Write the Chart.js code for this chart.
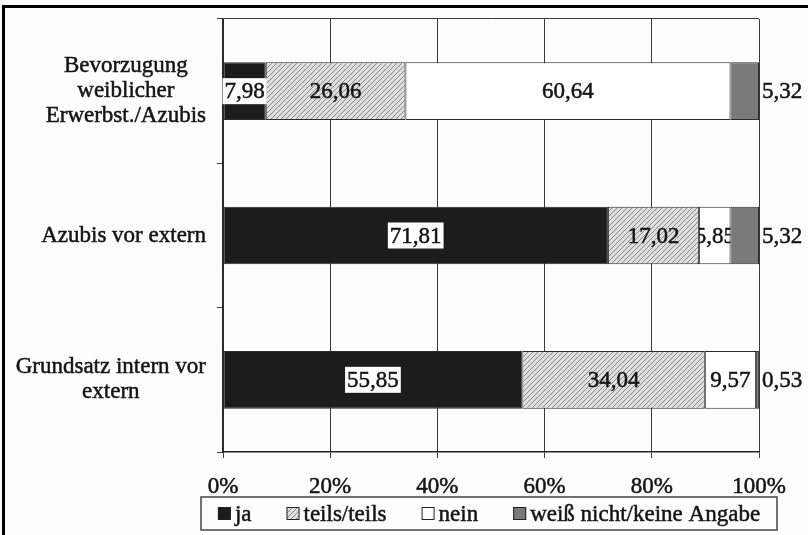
<!DOCTYPE html>
<html>
<head>
<meta charset="utf-8">
<script src="https://cdn.jsdelivr.net/npm/chart.js@4.4.1/dist/chart.umd.min.js"></script>
<style>
  html, body { margin: 0; padding: 0; background: #fff; }
  #wrap { position: relative; width: 808px; height: 535px; overflow: hidden; background: #fdfdfd; }
  #frame { position: absolute; left: 2px; top: 5px; width: 900px; height: 700px;
           border-left: 3px solid #000; border-top: 3px solid #000; pointer-events: none; }
  canvas { position: absolute; left: 0; top: 0; }
</style>
</head>
<body>
<div id="wrap">
  <canvas id="chart" width="808" height="535"></canvas>
  <div id="frame"></div>
</div>
<script>
// categories (one entry per bar, split into display lines)
const categories = [
  ["Bevorzugung", "weiblicher", "Erwerbst./Azubis"],
  ["Azubis vor extern"],
  ["Grundsatz intern vor", "extern"]
];
const seriesNames = ["ja", "teils/teils", "nein", "weiß nicht/keine Angabe"];
const jaValues = [7.98, 71.81, 55.85];
const teilsValues = [26.06, 17.02, 34.04];
const neinValues = [60.64, 5.85, 9.57];
const unknownValues = [5.32, 5.32, 0.53];
const xTickValues = [0, 20, 40, 60, 80, 100];

const FAMILY = "'Liberation Serif', 'Times New Roman', serif";
const FONT = "23px " + FAMILY;
const TEXT = "#141414";
const LINE = "#3a3a3a";
const STROKE_W = 0.5;

const canvas = document.getElementById("chart");
const ctx = canvas.getContext("2d");

// diagonal hatch fill for "teils/teils"
function makeHatch() {
  const c = document.createElement("canvas");
  c.width = 5;
  c.height = 5;
  const g = c.getContext("2d");
  g.fillStyle = "#dedede";
  g.fillRect(0, 0, 5, 5);
  g.strokeStyle = "#8a8a8a";
  g.lineWidth = 1;
  g.beginPath();
  g.moveTo(0, 5); g.lineTo(5, 0);
  g.moveTo(-1, 1); g.lineTo(1, -1);
  g.moveTo(4, 6); g.lineTo(6, 4);
  g.stroke();
  return ctx.createPattern(c, "repeat");
}

const fills = ["#1c1c1c", makeHatch(), "#ffffff", "#7a7a7a"];
const seriesData = [jaValues, teilsValues, neinValues, unknownValues];

function fmt(v) {
  return v.toFixed(2).replace(".", ",");
}

// slightly heavier text
function text(c, s, x, y) {
  c.fillStyle = TEXT;
  c.strokeStyle = TEXT;
  c.lineWidth = STROKE_W;
  c.fillText(s, x, y);
  c.strokeText(s, x, y);
}

// numbers on the segments
const valueLabels = {
  id: "valueLabels",
  afterDatasetsDraw(chart) {
    const c = chart.ctx;
    c.save();
    c.font = FONT;
    c.textBaseline = "middle";
    chart.data.datasets.forEach((ds, di) => {
      chart.getDatasetMeta(di).data.forEach((bar, i) => {
        const txt = fmt(ds.data[i]);
        const x0 = Math.min(bar.base, bar.x);
        const x1 = Math.max(bar.base, bar.x);
        const y = bar.y;
        const h = bar.height;
        if (di === 3) {
          // last series is labelled outside the bar
          c.textAlign = "left";
          text(c, txt, chart.chartArea.right + 3, y + 1);
          return;
        }
        const cx = (x0 + x1) / 2;
        c.textAlign = "center";
        if (di === 0) {
          const w = c.measureText(txt).width + 4;
          c.fillStyle = "#ffffff";
          c.fillRect(cx - w / 2, y - 13, w, 26);
          text(c, txt, cx, y + 1);
          return;
        }
        c.save();
        c.beginPath();
        c.rect(x0, y - h / 2, x1 - x0, h);
        c.clip();
        text(c, txt, cx, y + 1);
        c.restore();
      });
    });
    c.restore();
  }
};

// category names: block right-aligned to the axis, lines centred in the block
const categoryLabels = {
  id: "categoryLabels",
  afterDraw(chart) {
    const c = chart.ctx;
    const yScale = chart.scales.y;
    const right = 206;
    const lineH = 25;
    c.save();
    c.font = FONT;
    c.textAlign = "center";
    c.textBaseline = "middle";
    categories.forEach((lines, i) => {
      const y = yScale.getPixelForValue(i);
      const w = Math.max(...lines.map(l => c.measureText(l).width));
      const cx = right - w / 2;
      lines.forEach((l, k) => {
        text(c, l, cx, y + (k - (lines.length - 1) / 2) * lineH);
      });
    });
    c.restore();
  }
};

// boxed legend under the axis
const boxedLegend = {
  id: "boxedLegend",
  afterDraw(chart) {
    const c = chart.ctx;
    const sw = 13, gap = 4, spacing = 35;
    const top = 497, height = 33, midY = top + height / 2;
    c.save();
    c.font = FONT;
    const items = chart.data.datasets.map(ds => ({
      text: ds.label,
      fill: ds.backgroundColor,
      w: sw + gap + c.measureText(ds.label).width
    }));
    const total = items.reduce((s, it) => s + it.w, 0) + spacing * (items.length - 1);
    const center = (201 + 777) / 2;
    let x = center - total / 2;

    c.strokeStyle = "#444";
    c.lineWidth = 1.5;
    c.strokeRect(201, top, 576, height);

    c.textBaseline = "middle";
    c.textAlign = "left";
    items.forEach(it => {
      c.fillStyle = it.fill;
      c.fillRect(x, midY - sw / 2, sw, sw);
      c.strokeStyle = "#222";
      c.lineWidth = 1;
      c.strokeRect(x + 0.5, midY - sw / 2 + 0.5, sw - 1, sw - 1);
      text(c, it.text, x + sw + gap, midY + 1);
      x += it.w + spacing;
    });
    c.restore();
  }
};

new Chart(ctx, {
  type: "bar",
  data: {
    labels: categories.map(l => l.join(" ")),
    datasets: seriesNames.map((name, i) => ({
      label: name,
      data: seriesData[i],
      backgroundColor: fills[i],
      borderColor: "#2a2a2a",
      borderWidth: 1,
      borderSkipped: false,
      barPercentage: 0.4,
      categoryPercentage: 1.0
    }))
  },
  options: {
    indexAxis: "y",
    responsive: false,
    animation: false,
    devicePixelRatio: 1,
    layout: { padding: { top: 19, right: 49, left: 0, bottom: 0 } },
    plugins: {
      legend: { display: false },
      tooltip: { enabled: false }
    },
    scales: {
      x: {
        stacked: true,
        min: 0,
        max: 100,
        afterBuildTicks: s => { s.ticks = xTickValues.map(v => ({ value: v })); },
        afterFit: s => { s.height = 83; },
        ticks: {
          callback: v => v + "%",
          font: { family: FAMILY, size: 23 },
          color: TEXT,
          textStrokeColor: TEXT,
          textStrokeWidth: STROKE_W,
          padding: 15,
          maxRotation: 0
        },
        grid: { color: LINE, lineWidth: 1, tickLength: 6, tickColor: LINE },
        border: { color: "#222", width: 1.5 }
      },
      y: {
        stacked: true,
        afterFit: s => { s.width = 223; },
        ticks: { display: false },
        grid: {
          offset: true,
          color: c => (c.index === 0 ? LINE : "rgba(0,0,0,0)"),
          tickColor: LINE,
          tickLength: 6,
          lineWidth: 1
        },
        border: { color: "#222", width: 1.5 }
      }
    }
  },
  plugins: [valueLabels, categoryLabels, boxedLegend]
});
</script>
</body>
</html>
